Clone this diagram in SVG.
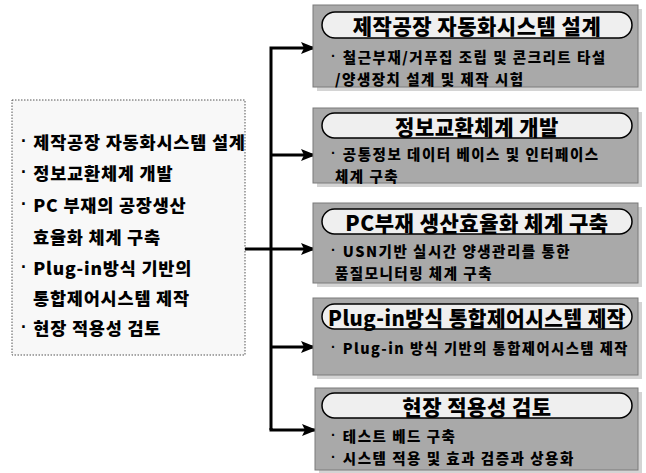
<svg xmlns="http://www.w3.org/2000/svg" width="646" height="473" viewBox="0 0 646 473">
<defs>
<style>
.kr{font-family:"Noto Sans CJK KR","Noto Sans",sans-serif;font-weight:900;fill:#000;}
.left{font-size:17.5px;letter-spacing:0.8px;}
.title{font-size:21px;letter-spacing:0.5px;text-anchor:middle;}
.sub{font-size:14.5px;letter-spacing:1.5px;}
.bul{font-family:"Liberation Sans",sans-serif;font-weight:bold;}
.box{fill:#a9a9a9;stroke:#7a7a7a;stroke-width:1;}
.shadow{fill:#d4d4d4;}
.pill{fill:#efefef;stroke:#000;stroke-width:1.5;}
.conn{fill:none;stroke:#000;stroke-width:3;}
</style>
<marker id="ah" markerUnits="userSpaceOnUse" markerWidth="15" markerHeight="14" viewBox="0 0 15 14" refX="14" refY="7" orient="auto">
<path d="M0,1 L15,7 L0,13 L3,7 Z" fill="#000"/>
</marker>
</defs>
<rect width="646" height="473" fill="#fff"/>

<g id="source">
<rect x="12" y="100" width="233" height="255" fill="#f8f8f8" stroke="#555" stroke-width="1" stroke-dasharray="1.5 1.5"/>
<text class="kr left" x="21" y="141" dominant-baseline="central"><tspan class="bul">· </tspan>제작공장 자동화시스템 설계</text>
<text class="kr left" x="21" y="172" dominant-baseline="central"><tspan class="bul">· </tspan>정보교환체계 개발</text>
<text class="kr left" x="21" y="204" dominant-baseline="central"><tspan class="bul">· </tspan>PC 부재의 공장생산</text>
<text class="kr left" x="33" y="236" dominant-baseline="central">효율화 체계 구축</text>
<text class="kr left" x="21" y="267" dominant-baseline="central"><tspan class="bul">· </tspan>Plug-in방식 기반의</text>
<text class="kr left" x="33" y="297" dominant-baseline="central">통합제어시스템 제작</text>
<text class="kr left" x="21" y="327" dominant-baseline="central"><tspan class="bul">· </tspan>현장 적용성 검토</text>
</g>

<g id="connectors">
<path class="conn" d="M271,430 V48 H315" marker-end="url(#ah)"/>
<path class="conn" d="M271,155 H315" marker-end="url(#ah)"/>
<path class="conn" d="M245,249 H315" marker-end="url(#ah)"/>
<path class="conn" d="M271,347 H315" marker-end="url(#ah)"/>
<path class="conn" d="M271,428 V430 H316" marker-end="url(#ah)"/>
</g>

<g id="node1">
<rect class="shadow" x="317" y="9" width="325" height="82"/>
<rect class="box" x="313" y="5" width="325" height="82"/>
<rect class="pill" x="322" y="12" width="310" height="26" rx="13"/>
<text class="kr title" x="477" y="25" dominant-baseline="central">제작공장 자동화시스템 설계</text>
<text class="kr sub" x="331" y="56" dominant-baseline="central"><tspan class="bul">· </tspan>철근부재/거푸집 조립 및 콘크리트 타설</text>
<text class="kr sub" x="335" y="78" dominant-baseline="central">/양생장치 설계 및 제작 시험</text>
</g>

<g id="node2">
<rect class="shadow" x="317" y="112" width="325" height="75"/>
<rect class="box" x="313" y="108" width="325" height="75"/>
<rect class="pill" x="322" y="113" width="310" height="25" rx="12.5"/>
<text class="kr title" x="477" y="125.5" dominant-baseline="central">정보교환체계 개발</text>
<text class="kr sub" x="331" y="153" dominant-baseline="central"><tspan class="bul">· </tspan>공통정보 데이터 베이스 및 인터페이스</text>
<text class="kr sub" x="335" y="175" dominant-baseline="central">체계 구축</text>
</g>

<g id="node3">
<rect class="shadow" x="317" y="207" width="325" height="80"/>
<rect class="box" x="313" y="203" width="325" height="80"/>
<rect class="pill" x="322" y="209" width="310" height="25" rx="12.5"/>
<text class="kr title" x="477" y="221.5" dominant-baseline="central">PC부재 생산효율화 체계 구축</text>
<text class="kr sub" x="331" y="250" dominant-baseline="central"><tspan class="bul">· </tspan>USN기반 실시간 양생관리를 통한</text>
<text class="kr sub" x="335" y="272" dominant-baseline="central">품질모니터링 체계 구축</text>
</g>

<g id="node4">
<rect class="shadow" x="317" y="302" width="325" height="77"/>
<rect class="box" x="313" y="298" width="325" height="77"/>
<rect class="pill" x="322" y="304" width="310" height="25" rx="12.5"/>
<text class="kr title" x="477" y="316.5" dominant-baseline="central" textLength="298" lengthAdjust="spacingAndGlyphs">Plug-in방식 통합제어시스템 제작</text>
<text class="kr sub" x="331" y="347" dominant-baseline="central" textLength="298" lengthAdjust="spacingAndGlyphs"><tspan class="bul">· </tspan>Plug-in 방식 기반의 통합제어시스템 제작</text>
</g>

<g id="node5">
<rect class="shadow" x="319" y="392" width="323" height="81"/>
<rect class="box" x="315" y="388" width="323" height="82"/>
<rect class="pill" x="322" y="393" width="310" height="25" rx="12.5"/>
<text class="kr title" x="477" y="405.5" dominant-baseline="central">현장 적용성 검토</text>
<text class="kr sub" x="331" y="435" dominant-baseline="central"><tspan class="bul">· </tspan>테스트 베드 구축</text>
<text class="kr sub" x="331" y="457" dominant-baseline="central"><tspan class="bul">· </tspan>시스템 적용 및 효과 검증과 상용화</text>
</g>
</svg>
